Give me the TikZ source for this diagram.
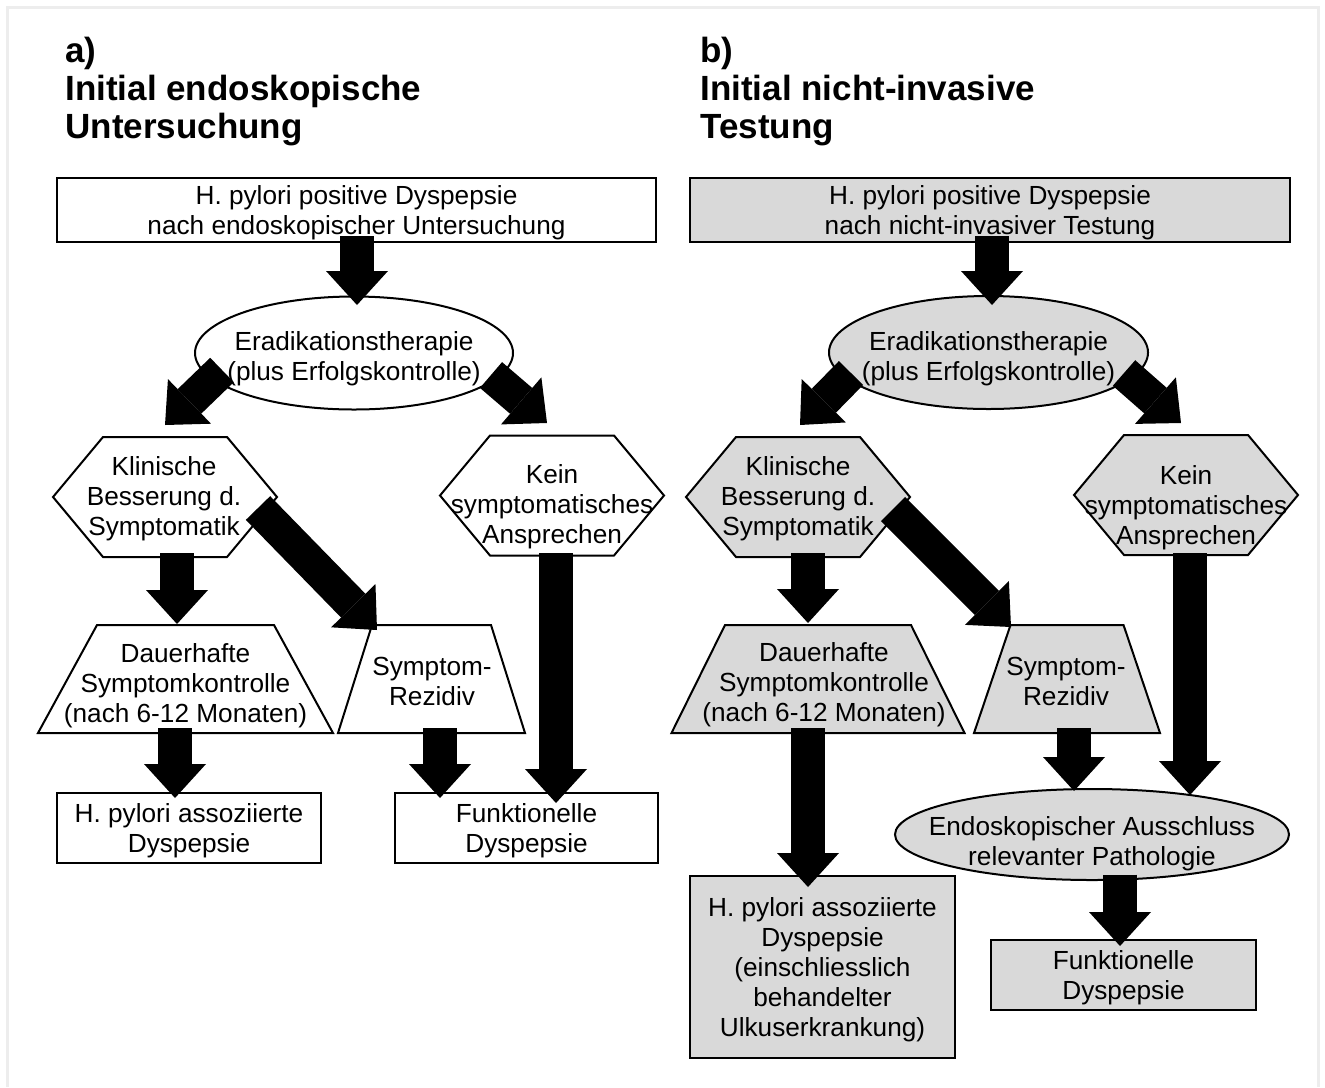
\documentclass[tikz,border=0pt]{standalone}
\usepackage{fontspec}
\setmainfont{Liberation Sans}
\usetikzlibrary{calc,arrows.meta,shapes.geometric}
\definecolor{panelgray}{HTML}{D9D9D9}
\definecolor{frameline}{HTML}{EDEDED}
\newcommand{\bodyfont}{\fontsize{13.1pt}{15pt}\selectfont}
\newcommand{\headfont}{\fontsize{17.5pt}{19pt}\selectfont\bfseries}
\tikzset{
  edgeLine/.style={draw=black, line width=1pt},
  lbl/.style={font=\bodyfont, align=center, inner sep=0pt, text depth=0pt},
  rectBox/.style={edgeLine, lbl, rectangle},
  ovalBox/.style={edgeLine, lbl, ellipse},
  fatArrow/.style={draw=black, line width=17pt, -{Triangle[width=31pt,length=17pt,line width=0pt]}},
  headLbl/.style={font=\headfont, align=left, anchor=north west, inner sep=0pt},
  frameLine/.style={draw=frameline, line width=1.5pt},
}
\newcommand{\HexShape}[3]{%
  \coordinate (#1) at (#2);
  \filldraw[edgeLine, fill=#3] ($(#1)+(-112,0)$) -- ++(50,-60) -- ++(124,0)
    -- ++(50,60) -- ++(-50,60) -- ++(-124,0) -- cycle;
}
\newcommand{\TrapShape}[5]{%
  \coordinate (#1) at (#2);
  \filldraw[edgeLine, fill=#5] ($(#1)+(-#4,54)$) -- ($(#1)+(-#3,-54)$)
    -- ($(#1)+(#3,-54)$) -- ($(#1)+(#4,54)$) -- cycle;
}

\begin{document}
\begin{tikzpicture}[x=0.5pt, y=-0.5pt]
  \useasboundingbox (0,0) rectangle (1325,1087);
  \draw[frameLine] (7,1087) -- (7,7) -- (1318,7) -- (1318,1087);

  % a) initial endoscopy
  \node[headLbl] (ttlA) at (65,37) {a)\\Initial endoskopische\\Untersuchung};
  \node[rectBox, fill=white, minimum width=299.5pt, minimum height=32pt] (a1) at (356.5,210)
    {H. pylori positive Dyspepsie\\nach endoskopischer Untersuchung};
  \node[ovalBox, fill=white, minimum width=159pt, minimum height=56.5pt] (a2) at (354,353) {};
  \node[lbl] (a2t) at (354,356) {Eradikationstherapie\\(plus Erfolgskontrolle)};
  \HexShape{a3}{165,497}{white}
  \node[lbl] (a3t) at (164,496) {Klinische\\Besserung d.\\Symptomatik};
  \HexShape{a4}{552,495.5}{white}
  \node[lbl] (a4t) at (552,504) {Kein\\symptomatisches\\Ansprechen};
  \TrapShape{a5}{185.5,679}{88.5}{147.5}{white}
  \node[lbl] (a5t) at (185.5,683) {Dauerhafte\\Symptomkontrolle\\(nach 6-12 Monaten)};
  \TrapShape{a6}{431.5,679}{59.5}{93.5}{white}
  \node[lbl] (a6t) at (432,681) {Symptom-\\Rezidiv};
  \node[rectBox, fill=white, minimum width=132pt, minimum height=35pt] (a7) at (189,828)
    {H. pylori assoziierte\\Dyspepsie};
  \node[rectBox, fill=white, minimum width=131.5pt, minimum height=35pt] (a8) at (526.5,828)
    {Funktionelle\\Dyspepsie};

  \draw[fatArrow] ($(a1)+(0.5,26)$) -- ($(a2)+(3,-48)$);
  \draw[fatArrow] ($(a2)+(-132,17)$) -- ($(a3)+(0,-72)$);
  \draw[fatArrow] ($(a2)+(137,22)$) -- ($(a4)+(-5,-72.5)$);
  \draw[fatArrow] ($(a3)+(12,56)$) -- ($(a5)+(-8.5,-55)$);
  \draw[fatArrow] ($(a3)+(93,11)$) -- ($(a6)+(-54.5,-49)$);
  \draw[fatArrow] ($(a4)+(4,57.5)$) -- ($(a8)+(29.5,-25)$);
  \draw[fatArrow] ($(a5)+(-10.5,49)$) -- ($(a7)+(-14,-30)$);
  \draw[fatArrow] ($(a6)+(8.5,49)$) -- ($(a8)+(-86.5,-30)$);

  % b) initial non-invasive testing
  \node[headLbl] (ttlB) at (700,37) {b)\\Initial nicht-invasive\\Testung};
  \node[rectBox, fill=panelgray, minimum width=300pt, minimum height=32pt] (b1) at (990,210)
    {H. pylori positive Dyspepsie\\nach nicht-invasiver Testung};
  \node[ovalBox, fill=panelgray, minimum width=159.5pt, minimum height=56.5pt] (b2) at (988.5,352.5) {};
  \node[lbl] (b2t) at (988.5,355.5) {Eradikationstherapie\\(plus Erfolgskontrolle)};
  \HexShape{b3}{798,497}{panelgray}
  \node[lbl] (b3t) at (798,496) {Klinische\\Besserung d.\\Symptomatik};
  \HexShape{b4}{1186,495}{panelgray}
  \node[lbl] (b4t) at (1186,505) {Kein\\symptomatisches\\Ansprechen};
  \TrapShape{b5}{818,679}{93}{146.5}{panelgray}
  \node[lbl] (b5t) at (824,682) {Dauerhafte\\Symptomkontrolle\\(nach 6-12 Monaten)};
  \TrapShape{b6}{1067,679}{56.5}{93}{panelgray}
  \node[lbl] (b6t) at (1066,681) {Symptom-\\Rezidiv};
  \node[rectBox, fill=panelgray, minimum width=132.5pt, minimum height=91pt] (b7) at (822.5,967)
    {H. pylori assoziierte\\Dyspepsie\\(einschliesslich\\behandelter\\Ulkuserkrankung)};
  \node[ovalBox, fill=panelgray, minimum width=197pt, minimum height=45.5pt] (b8) at (1092,834.5) {};
  \node[lbl] (b8t) at (1092,841) {Endoskopischer Ausschluss\\relevanter Pathologie};
  \node[rectBox, fill=panelgray, minimum width=132.5pt, minimum height=35pt] (b9) at (1123.5,975)
    {Funktionelle\\Dyspepsie};

  \draw[fatArrow] ($(b1)+(2,26)$) -- ($(b2)+(3.5,-47.5)$);
  \draw[fatArrow] ($(b2)+(-137.5,20.5)$) -- ($(b3)+(2,-72)$);
  \draw[fatArrow] ($(b2)+(135.5,20.5)$) -- ($(b4)+(-5,-72)$);
  \draw[fatArrow] ($(b3)+(10,56)$) -- ($(b5)+(-10,-56)$);
  \draw[fatArrow] ($(b3)+(95,12)$) -- ($(b6)+(-56,-52)$);
  \draw[fatArrow] ($(b5)+(-10,49)$) -- ($(b7)+(-14.5,-80)$);
  \draw[fatArrow] ($(b6)+(7,49)$) -- ($(b8)+(-18,-43.5)$);
  \draw[fatArrow] ($(b4)+(4,58)$) -- ($(b8)+(98,-39.5)$);
  \draw[fatArrow] ($(b8)+(28,40)$) -- ($(b9)+(-3.5,-29)$);
\end{tikzpicture}
\end{document}
